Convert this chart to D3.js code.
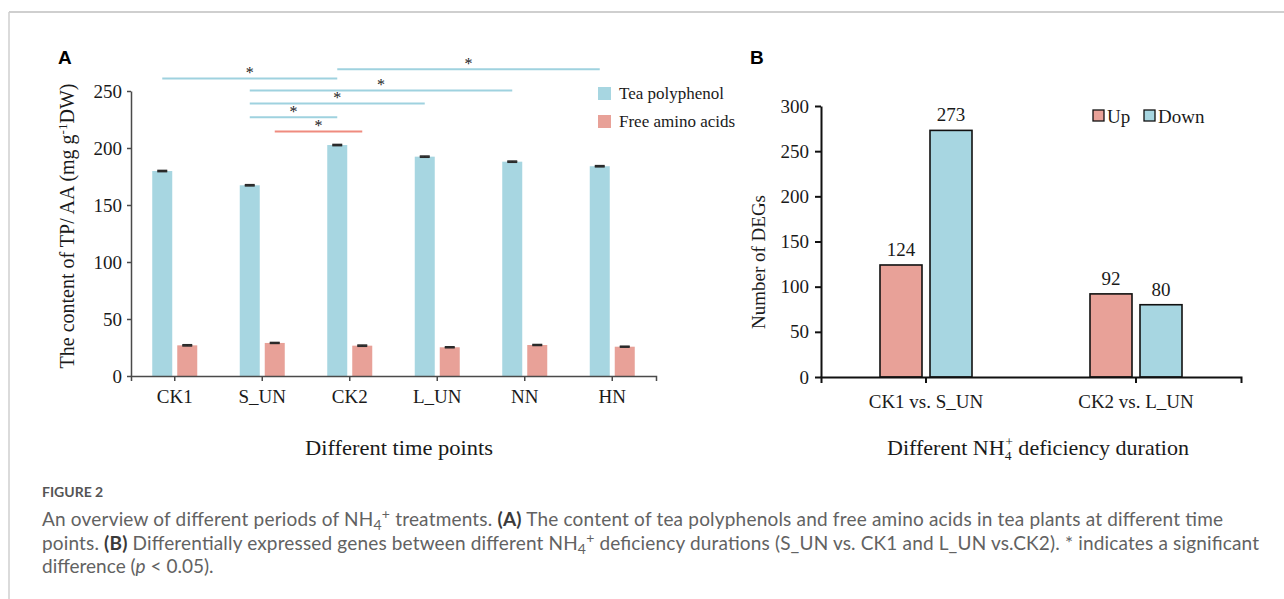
<!DOCTYPE html>
<html>
<head>
<meta charset="utf-8">
<script src="https://cdn.jsdelivr.net/npm/d3@7"></script>
<style>
  body { margin: 0; background: #fff; }
  svg text { font-family: "Liberation Serif", "Times New Roman", serif; fill: #1a1a1a; }
  .cap text { font-family: Lato, "Open Sans", sans-serif; }
</style>
</head>
<body>
<svg id="fig" width="1284" height="599"></svg>
<script>
// panel A data
var timePoints = ["CK1", "S_UN", "CK2", "L_UN", "NN", "HN"];
var seriesA = ["Tea polyphenol", "Free amino acids"];
var teaPolyphenol = [179.8, 167.3, 202.6, 192.4, 188.0, 184.0];
var teaPolyphenolErr = [0.5, 0.5, 0.5, 0.5, 0.5, 0.5];
var aminoAcids = [26.9, 29.0, 26.6, 25.2, 27.2, 25.7];
var aminoAcidsErr = [0.5, 0.4, 0.5, 0.4, 0.4, 0.4];
var ticksA = [0, 50, 100, 150, 200, 250];
// significance brackets: from / to category, series index, height in data units
var sigFrom = ["CK1", "CK2", "S_UN", "S_UN", "S_UN", "S_UN"];
var sigTo = ["CK2", "HN", "NN", "L_UN", "CK2", "CK2"];
var sigSeries = [0, 0, 0, 0, 0, 1];
var sigHeight = [261, 269, 250.5, 239, 227, 214.5];

// panel B data
var comparisons = ["CK1 vs. S_UN", "CK2 vs. L_UN"];
var seriesB = ["Up", "Down"];
var degUp = [124, 92];
var degDown = [273, 80];
var ticksB = [0, 50, 100, 150, 200, 250, 300];

var blue = "#a7d6e1", red = "#e8a198";
var sigBlue = "#9fd2df", sigRed = "#ef8b7f";

var svg = d3.select("#fig");

// frame
svg.append("line").attr("x1", 9).attr("x2", 1284).attr("y1", 12).attr("y2", 12)
    .attr("stroke", "#cfcfcf").attr("stroke-width", 2);
svg.append("line").attr("x1", 9).attr("x2", 9).attr("y1", 12).attr("y2", 599)
    .attr("stroke", "#cfcfcf").attr("stroke-width", 1.5);

// ---------- panel A ----------
var xA = d3.scaleBand().domain(timePoints).range([131, 656]);
var xA1 = d3.scaleBand().domain([0, 1])
    .range([xA.bandwidth() / 2 - 22.5, xA.bandwidth() / 2 + 22.5]).paddingInner(0.2);
var yA = d3.scaleLinear().domain([0, 250]).range([376, 91]);

var gA = svg.append("g");

gA.append("text").attr("x", 58).attr("y", 64).text("A")
    .style("font-family", "Liberation Sans, Arial, sans-serif").style("font-weight", "bold")
    .style("font-size", "19px").style("fill", "#000");

var valsA = [teaPolyphenol, aminoAcids];
var errsA = [teaPolyphenolErr, aminoAcidsErr];
var colA = [blue, red];

valsA.forEach(function (vals, s) {
    gA.selectAll("rect.s" + s)
        .data(vals)
        .enter()
        .append("rect")
        .attr("class", "s" + s)
        .attr("x", function (d, i) { return xA(timePoints[i]) + xA1(s); })
        .attr("y", function (d) { return yA(d); })
        .attr("width", xA1.bandwidth())
        .attr("height", function (d) { return yA(0) - yA(d); })
        .attr("fill", colA[s]);

    // error bars
    var eb = gA.selectAll("g.e" + s)
        .data(vals)
        .enter()
        .append("g")
        .attr("class", "e" + s)
        .attr("transform", function (d, i) {
            return "translate(" + (xA(timePoints[i]) + xA1(s) + xA1.bandwidth() / 2) + ",0)";
        });
    eb.append("line")
        .attr("x1", 0).attr("x2", 0)
        .attr("y1", function (d, i) { return yA(d + errsA[s][i]); })
        .attr("y2", function (d, i) { return yA(d - errsA[s][i]); })
        .attr("stroke", "#2a2a2a").attr("stroke-width", 1.5);
    [1, -1].forEach(function (sign) {
        eb.append("line")
            .attr("x1", -5).attr("x2", 5)
            .attr("y1", function (d, i) { return yA(d + sign * errsA[s][i]); })
            .attr("y2", function (d, i) { return yA(d + sign * errsA[s][i]); })
            .attr("stroke", "#2a2a2a").attr("stroke-width", 1.6);
    });
});

// axes A
var axA = gA.append("g").attr("transform", "translate(0," + yA(0) + ")")
    .call(d3.axisBottom(xA).tickSize(5).tickSizeOuter(5).tickPadding(6));
var ayA = gA.append("g").attr("transform", "translate(131,0)")
    .call(d3.axisLeft(yA).tickValues(ticksA).tickSize(4).tickSizeOuter(0).tickPadding(5));
[axA, ayA].forEach(function (a) {
    a.selectAll("path, line").attr("stroke", "#4a4a4a").attr("stroke-width", 1.5);
    a.selectAll("text").style("font-size", "19px")
        .style("font-family", "Liberation Serif, Times New Roman, serif").attr("fill", "#1a1a1a");
});
axA.selectAll("text").attr("dy", "0.85em");

// significance lines
sigFrom.forEach(function (f, k) {
    var s = sigSeries[k];
    var x1 = xA(f) + xA1(s) + xA1.bandwidth() / 2;
    var x2 = xA(sigTo[k]) + xA1(s) + xA1.bandwidth() / 2;
    var yy = yA(sigHeight[k]);
    gA.append("line").attr("x1", x1).attr("x2", x2).attr("y1", yy).attr("y2", yy)
        .attr("stroke", s === 0 ? sigBlue : sigRed).attr("stroke-width", 2);
    gA.append("text").attr("x", (x1 + x2) / 2).attr("y", yy - 0.5)
        .attr("text-anchor", "middle").style("font-size", "16px").style("fill", "#222").text("*");
});

// legend A
seriesA.forEach(function (name, s) {
    gA.append("rect").attr("x", 598).attr("y", 87 + s * 28).attr("width", 13).attr("height", 13)
        .attr("fill", colA[s]);
    gA.append("text").attr("x", 619).attr("y", 99 + s * 28).style("font-size", "17px").text(name);
});

// axis titles A
var tA = gA.append("text").attr("transform", "translate(74,226) rotate(-90)")
    .attr("text-anchor", "middle").style("font-size", "20px");
tA.append("tspan").text("The content of TP/ AA (mg g");
tA.append("tspan").attr("dy", -7).style("font-size", "13px").text("-1");
tA.append("tspan").attr("dy", 7).text("DW)");

gA.append("text").attr("x", 305).attr("y", 455)
    .attr("textLength", 188).attr("lengthAdjust", "spacingAndGlyphs")
    .style("font-size", "21px").text("Different time points");

// ---------- panel B ----------
var xB = d3.scaleBand().domain(comparisons).range([821, 1241]);
var xB1 = d3.scaleBand().domain([0, 1])
    .range([xB.bandwidth() / 2 - 46, xB.bandwidth() / 2 + 46]).paddingInner(0.16);
var yB = d3.scaleLinear().domain([0, 300]).range([377, 106]);
var gB = svg.append("g");

gB.append("text").attr("x", 750).attr("y", 64).text("B")
    .style("font-family", "Liberation Sans, Arial, sans-serif").style("font-weight", "bold")
    .style("font-size", "19px").style("fill", "#000");

var valsB = [degUp, degDown];
var colB = [red, blue];
valsB.forEach(function (vals, s) {
    gB.selectAll("rect.b" + s)
        .data(vals)
        .enter()
        .append("rect")
        .attr("class", "b" + s)
        .attr("x", function (d, i) { return xB(comparisons[i]) + xB1(s); })
        .attr("y", function (d) { return yB(d); })
        .attr("width", xB1.bandwidth())
        .attr("height", function (d) { return yB(0) - yB(d); })
        .attr("fill", colB[s]).attr("stroke", "#111").attr("stroke-width", 1.6);
    gB.selectAll("text.l" + s)
        .data(vals)
        .enter()
        .append("text")
        .attr("class", "l" + s)
        .attr("x", function (d, i) { return xB(comparisons[i]) + xB1(s) + xB1.bandwidth() / 2; })
        .attr("y", function (d) { return yB(d) - 9; })
        .attr("text-anchor", "middle").style("font-size", "19px")
        .text(function (d) { return d; });
});

var axB = gB.append("g").attr("transform", "translate(0," + yB(0) + ")")
    .call(d3.axisBottom(xB).tickSize(6).tickSizeOuter(6).tickPadding(9));
var ayB = gB.append("g").attr("transform", "translate(821,0)")
    .call(d3.axisLeft(yB).tickValues(ticksB).tickSize(6).tickSizeOuter(0).tickPadding(6));
[axB, ayB].forEach(function (a) {
    a.selectAll("path, line").attr("stroke", "#111").attr("stroke-width", 2);
    a.selectAll("text").style("font-size", "19px")
        .style("font-family", "Liberation Serif, Times New Roman, serif").attr("fill", "#1a1a1a");
});
axB.selectAll("text").attr("dy", "0.85em");

// legend B
var lgX = [1093, 1144], lgT = [1107, 1158];
seriesB.forEach(function (name, s) {
    gB.append("rect").attr("x", lgX[s]).attr("y", 110).attr("width", 11).attr("height", 11)
        .attr("fill", colB[s]).attr("stroke", "#111").attr("stroke-width", 1.3);
    gB.append("text").attr("x", lgT[s]).attr("y", 123).style("font-size", "19px").text(name);
});

gB.append("text").attr("transform", "translate(765,262) rotate(-90)")
    .attr("text-anchor", "middle").style("font-size", "19px").text("Number of DEGs");

var tB = gB.append("text").attr("x", 887).attr("y", 455)
    .attr("textLength", 302).attr("lengthAdjust", "spacingAndGlyphs").style("font-size", "21px");
tB.append("tspan").text("Different NH");
tB.append("tspan").attr("dy", 5).style("font-size", "13px").text("4");
tB.append("tspan").attr("dy", -14).attr("dx", -6).style("font-size", "13px").text("+");
tB.append("tspan").attr("dy", 9).text(" deficiency duration");

// ---------- caption ----------
var cap = svg.append("g").attr("class", "cap");
cap.append("text").attr("x", 42).attr("y", 497).text("FIGURE 2")
    .style("font-size", "14px").style("font-weight", "bold").style("fill", "#555");

function capLine(y, parts, len) {
    var t = cap.append("text").attr("x", 42).attr("y", y).style("font-size", "19px").style("fill", "#626262");
    if (len) t.attr("textLength", len).attr("lengthAdjust", "spacing");
    parts.forEach(function (p) {
        var ts = t.append("tspan").text(p.t);
        if (p.b) ts.style("font-weight", "bold").style("fill", "#3a3a3a");
        if (p.i) ts.style("font-style", "italic");
        if (p.sub) ts.attr("dy", 4).style("font-size", "14px");
        if (p.sup) ts.attr("dy", -11).style("font-size", "14px");
        if (p.back) ts.attr("dy", p.back);
    });
}
capLine(526, [
    { t: "An overview of different periods of NH" }, { t: "4", sub: 1 }, { t: "+", sup: 1 },
    { t: " treatments. ", back: 7 }, { t: "(A)", b: 1 },
    { t: " The content of tea polyphenols and free amino acids in tea plants at different time" }
], 1181);
capLine(550, [
    { t: "points. " }, { t: "(B)", b: 1 },
    { t: " Differentially expressed genes between different NH" }, { t: "4", sub: 1 }, { t: "+", sup: 1 },
    { t: " deficiency durations (S_UN vs. CK1 and L_UN vs.CK2). * indicates a significant", back: 7 }
], 1217);
capLine(573, [
    { t: "difference (" }, { t: "p", i: 1 }, { t: " < 0.05)." }
]);
</script>
</body>
</html>
